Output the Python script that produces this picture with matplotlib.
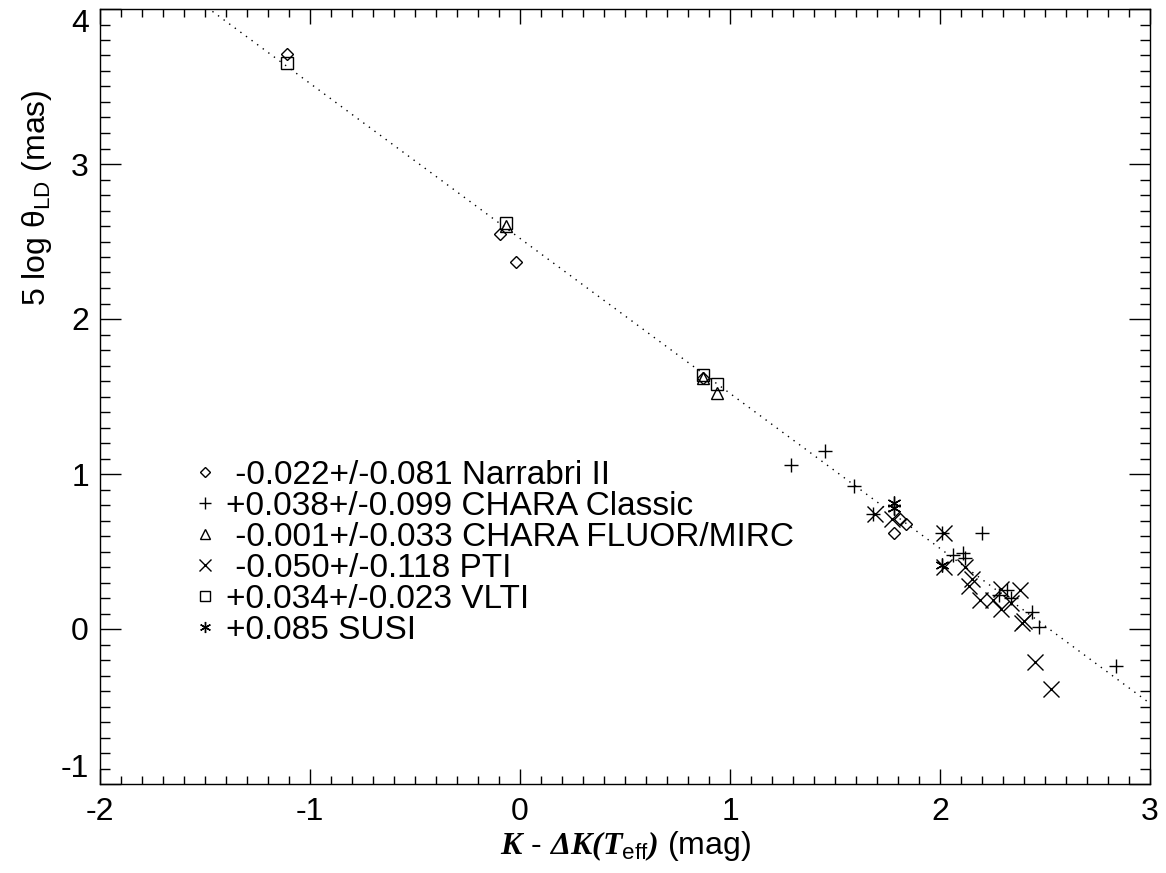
import matplotlib
matplotlib.use('Agg')
import matplotlib.pyplot as plt
import numpy as np
from matplotlib.lines import Line2D
from matplotlib.ticker import MultipleLocator

plt.rcParams['font.family'] = ['Liberation Sans', 'DejaVu Sans']
plt.rcParams['mathtext.fontset'] = 'custom'
plt.rcParams['mathtext.rm'] = 'Liberation Sans'
plt.rcParams['mathtext.it'] = 'Liberation Sans:italic'
plt.rcParams['mathtext.bf'] = 'Liberation Serif:bold:italic'

# data: x = K - dK(Teff), y = 5 log theta_LD
narrabri_x = [-1.11, -0.095, -0.02, 0.87, 1.78, 1.81, 1.84]
narrabri_y = [3.71, 2.55, 2.37, 1.62, 0.62, 0.71, 0.68]

classic_x = [1.29, 1.45, 1.59, 1.68, 2.01, 2.20, 2.06, 2.11, 2.12, 2.28, 2.32, 2.34, 2.44, 2.47, 2.84]
classic_y = [1.06, 1.15, 0.92, 0.74, 0.62, 0.62, 0.48, 0.49, 0.46, 0.22, 0.25, 0.20, 0.11, 0.01, -0.24]

fluor_x = [-0.065, 0.87, 0.94]
fluor_y = [2.60, 1.62, 1.52]

pti_x = [1.69, 1.77, 2.02, 2.02, 2.12, 2.15, 2.14, 2.19, 2.25, 2.29, 2.38, 2.29, 2.34, 2.40, 2.39, 2.45, 2.53]
pti_y = [0.74, 0.71, 0.62, 0.40, 0.40, 0.32, 0.28, 0.19, 0.19, 0.26, 0.25, 0.13, 0.17, 0.05, 0.04, -0.21, -0.39]

vlti_x = [-1.11, -0.065, 0.87, 0.94]
vlti_y = [3.65, 2.62, 1.64, 1.58]

susi_x = [1.78, 1.78, 2.01]
susi_y = [0.81, 0.78, 0.41]

labels = [' -0.022+/-0.081 Narrabri II',
          '+0.038+/-0.099 CHARA Classic',
          ' -0.001+/-0.033 CHARA FLUOR/MIRC',
          ' -0.050+/-0.118 PTI',
          '+0.034+/-0.023 VLTI',
          '+0.085 SUSI']

# fitted relation (dotted)
fit_slope = -1.0
fit_icpt = 2.52

fig = plt.figure(figsize=(11.66, 8.73), dpi=100)
ax = fig.add_axes([100/1166, 1 - 784/873, 1050/1166, 775/873])

xx = np.array([-2.0, 3.0])
ax.plot(xx, fit_icpt + fit_slope * xx, ls=(0, (1, 4)), color='k', lw=1.0)

mk = dict(ls='none', color='k', mfc='none', mew=1.0)
series = [
    (narrabri_x, narrabri_y, 'D', 6.5),
    (classic_x, classic_y, '+', 10),
    (fluor_x, fluor_y, '^', 9),
    (pti_x, pti_y, 'x', 11),
    (vlti_x, vlti_y, 's', 9),
    (susi_x, susi_y, (6, 2, 0), 10),
]
handles = []
for (sx, sy, m, ms), lab in zip(series, labels):
    ax.plot(sx, sy, marker=m, ms=ms, **mk)
    handles.append(Line2D([], [], marker=m, ms=ms * 0.8, label=lab, **mk))

ax.legend(handles=handles, loc='upper left', bbox_to_anchor=(96/1050, 1 - 451/775),
          frameon=False, fontsize=24, handlelength=0.55, handletextpad=0.35,
          labelspacing=0.0, borderpad=0, borderaxespad=0)

ax.set_xlim(-2, 3)
ax.set_ylim(-1, 4)
ax.xaxis.set_major_locator(MultipleLocator(1))
ax.xaxis.set_minor_locator(MultipleLocator(0.1))
ax.yaxis.set_major_locator(MultipleLocator(1))
ax.yaxis.set_minor_locator(MultipleLocator(0.1))
ax.tick_params(which='both', direction='in', top=True, right=True, width=1.0, colors='k')
ax.tick_params(axis='x', which='major', length=11, labelsize=23, pad=9)
ax.tick_params(axis='x', which='minor', length=5.5)
ax.tick_params(axis='y', which='major', length=15, labelsize=23, pad=8)
ax.tick_params(axis='y', which='minor', length=7.5)
for s in ax.spines.values():
    s.set_linewidth(1.0)

ax.set_xticks([-2, -1, 0, 1, 2, 3])
ax.set_xticklabels(['-2', '-1', '0', '1', '2', '3'])
ax.set_yticks([-1, 0, 1, 2, 3, 4])
ax.set_yticklabels(['-1', '0', '1', '2', '3', '4'])
ylabs = ax.get_yticklabels()
ylabs[0].set_va('bottom')
ylabs[-1].set_va('top')

ax.set_xlabel(r'$\mathbf{K}$ - $\mathbf{\Delta K(T}_{\mathrm{eff}}\mathbf{)}$ (mag)', fontsize=23)
ax.xaxis.set_label_coords(0.5, -0.058)
ax.set_ylabel(r'5 log θ$_{\mathrm{LD}}$ (mas)', fontsize=23)
ax.yaxis.set_label_coords(-0.044, 0.757)

fig.savefig('out.png', dpi=100)
